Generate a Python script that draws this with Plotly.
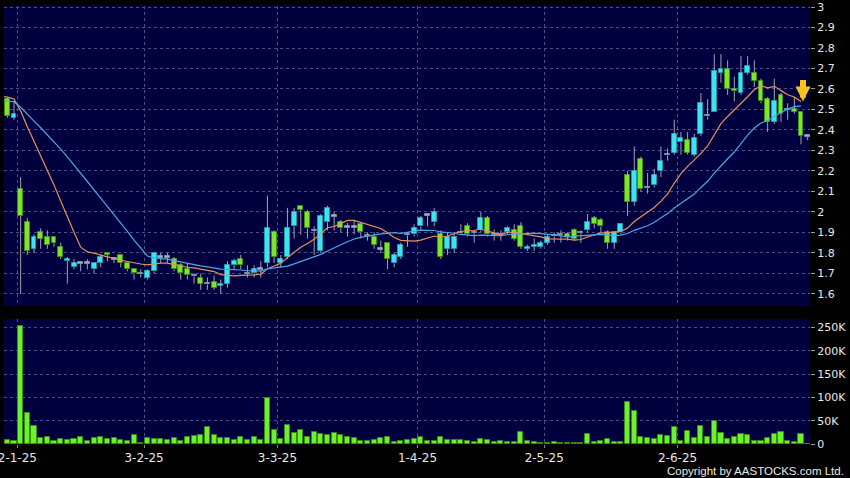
import numpy as np
import pandas as pd
import plotly.graph_objects as go

# ---------------- data ----------------
hk_holidays = ["2025-01-01", "2025-01-29", "2025-01-30", "2025-01-31", "2025-04-04",
               "2025-04-18", "2025-04-21", "2025-05-01", "2025-05-05"]
dates = [d for d in pd.bdate_range("2024-12-30", "2025-06-27")
         if d.strftime("%Y-%m-%d") not in hk_holidays]

tick_dates = ["2025-01-02", "2025-02-03", "2025-03-03", "2025-04-01", "2025-05-02", "2025-06-02"]
tick_labels = ["2-1-25", "3-2-25", "3-3-25", "1-4-25", "2-5-25", "2-6-25"]

open_ = [2.55, 2.46, 2.11, 1.95, 1.82, 1.90, 1.88, 1.88, 1.83, 1.76,
         1.73, 1.75, 1.75, 1.72, 1.75, 1.80, 1.77, 1.79, 1.75, 1.72,
         1.70, 1.68, 1.71, 1.78, 1.78, 1.77, 1.74, 1.72, 1.69, 1.68,
         1.65, 1.66, 1.64, 1.65, 1.74, 1.77, 1.70, 1.70, 1.72, 1.75,
         1.90, 1.75, 1.78, 1.93, 2.03, 2.00, 1.91, 1.81, 1.95, 1.98,
         1.95, 1.925, 1.925, 1.94, 1.885, 1.88, 1.82, 1.85, 1.75, 1.78,
         1.89, 1.89, 1.93, 1.985, 1.95, 1.89, 1.82, 1.82, 1.90, 1.93,
         1.90, 1.91, 1.97, 1.89, 1.89, 1.90, 1.91, 1.93, 1.82, 1.83,
         1.83, 1.85, 1.885, 1.89, 1.89, 1.91, 1.90, 1.91, 1.97, 1.96,
         1.90, 1.85, 1.90, 2.18, 2.05, 2.26, 2.12, 2.13, 2.20, 2.28,
         2.29, 2.34, 2.35, 2.28, 2.38, 2.47, 2.49, 2.68, 2.70, 2.60,
         2.58, 2.68, 2.68, 2.64, 2.55, 2.44, 2.57, 2.50, 2.50, 2.49,
         2.37]
high = [2.56, 2.54, 2.17, 1.97, 1.89, 1.92, 1.91, 1.88, 1.85, 1.78,
        1.77, 1.75, 1.77, 1.75, 1.79, 1.80, 1.78, 1.79, 1.75, 1.72,
        1.72, 1.72, 1.80, 1.80, 1.80, 1.78, 1.75, 1.75, 1.70, 1.70,
        1.68, 1.69, 1.67, 1.76, 1.77, 1.79, 1.74, 1.74, 1.76, 2.08,
        1.91, 1.79, 2.02, 2.02, 2.03, 2.01, 1.93, 1.99, 2.03, 2.00,
        1.96, 1.945, 1.96, 1.95, 1.90, 1.90, 1.86, 1.85, 1.80, 1.85,
        1.90, 1.94, 1.98, 1.99, 2.02, 1.91, 1.90, 1.90, 1.94, 1.945,
        1.91, 2.00, 1.98, 1.915, 1.91, 1.93, 1.94, 1.95, 1.84, 1.87,
        1.86, 1.89, 1.90, 1.91, 1.90, 1.92, 1.91, 1.99, 1.98, 1.97,
        1.91, 1.90, 1.945, 2.20, 2.32, 2.27, 2.19, 2.21, 2.32, 2.31,
        2.45, 2.39, 2.39, 2.38, 2.58, 2.55, 2.77, 2.77, 2.74, 2.66,
        2.76, 2.76, 2.74, 2.65, 2.56, 2.65, 2.58, 2.53, 2.56, 2.49,
        2.38]
low = [2.46, 2.45, 1.60, 1.79, 1.80, 1.82, 1.82, 1.83, 1.77, 1.65,
       1.72, 1.71, 1.72, 1.70, 1.73, 1.76, 1.75, 1.73, 1.71, 1.67,
       1.68, 1.67, 1.70, 1.75, 1.75, 1.71, 1.67, 1.67, 1.65, 1.62,
       1.62, 1.62, 1.60, 1.63, 1.72, 1.72, 1.68, 1.68, 1.68, 1.73,
       1.75, 1.73, 1.77, 1.87, 1.89, 1.87, 1.79, 1.80, 1.91, 1.91,
       1.90, 1.88, 1.89, 1.87, 1.86, 1.82, 1.80, 1.72, 1.73, 1.77,
       1.83, 1.88, 1.91, 1.93, 1.93, 1.77, 1.79, 1.80, 1.89, 1.88,
       1.85, 1.90, 1.88, 1.86, 1.86, 1.89, 1.86, 1.82, 1.81, 1.81,
       1.82, 1.84, 1.85, 1.85, 1.86, 1.86, 1.85, 1.90, 1.92, 1.90,
       1.82, 1.82, 1.89, 1.98, 2.03, 2.10, 2.09, 2.12, 2.17, 2.25,
       2.28, 2.28, 2.28, 2.27, 2.37, 2.45, 2.49, 2.63, 2.57, 2.54,
       2.57, 2.67, 2.61, 2.53, 2.39, 2.43, 2.44, 2.45, 2.48, 2.33,
       2.35]
close = [2.47, 2.48, 1.98, 1.81, 1.88, 1.87, 1.84, 1.85, 1.78, 1.77,
         1.75, 1.75, 1.75, 1.75, 1.78, 1.79, 1.77, 1.75, 1.72, 1.70,
         1.70, 1.71, 1.80, 1.78, 1.78, 1.72, 1.70, 1.69, 1.69, 1.65,
         1.65, 1.63, 1.65, 1.74, 1.76, 1.74, 1.70, 1.72, 1.72, 1.92,
         1.78, 1.77, 1.92, 2.00, 2.01, 1.92, 1.91, 1.98, 2.02, 1.98,
         1.92, 1.925, 1.925, 1.90, 1.885, 1.84, 1.82, 1.77, 1.79, 1.84,
         1.89, 1.92, 1.97, 1.985, 2.00, 1.78, 1.88, 1.88, 1.90, 1.89,
         1.90, 1.97, 1.89, 1.89, 1.89, 1.92, 1.87, 1.83, 1.83, 1.84,
         1.85, 1.88, 1.885, 1.89, 1.88, 1.87, 1.90, 1.95, 1.94, 1.93,
         1.85, 1.90, 1.94, 2.05, 2.20, 2.11, 2.12, 2.18, 2.25, 2.28,
         2.38, 2.36, 2.29, 2.36, 2.53, 2.47, 2.69, 2.70, 2.60, 2.59,
         2.68, 2.71, 2.64, 2.54, 2.44, 2.54, 2.48, 2.50, 2.49, 2.37,
         2.37]
volume = [8000, 6000, 254000, 67000, 38000, 13000, 15000, 6000, 11000, 9000,
          10000, 15000, 6000, 12000, 14000, 11000, 12000, 8000, 6000, 19000,
          2000, 12000, 11000, 11000, 8000, 12000, 6000, 14000, 17000, 19000,
          36000, 19000, 12000, 12000, 8000, 14000, 9000, 14000, 8000, 99000,
          29000, 10000, 41000, 24000, 31000, 15000, 25000, 22000, 19000, 23000,
          19000, 14000, 12000, 6000, 6000, 8000, 12000, 14000, 4000, 6000,
          9000, 11000, 14000, 6000, 6000, 14000, 9000, 9000, 8000, 6000,
          4000, 11000, 9000, 4000, 7000, 4000, 4000, 25000, 6000, 4000,
          1500, 1500, 4000, 2000, 2000, 2000, 2000, 21000, 5000, 6000,
          11000, 4000, 5000, 91000, 71000, 16000, 12000, 10000, 20000, 17000,
          36000, 7000, 27000, 12000, 38000, 15000, 49000, 23000, 11000, 14000,
          22000, 19000, 7000, 7000, 13000, 21000, 26000, 7000, 5000, 22000,
          0]
# closes before the visible window (estimated from the starting MA levels)
prior_closes = [2.52] * 11 + [2.57] * 9

vol_tickvals = [0, 50000, 100000, 150000, 200000, 250000]
vol_ticktext = ["0", "50K", "100K", "150K", "200K", "250K"]

# ---------------- derived ----------------
n = len(dates)
xi = np.arange(n)
o = np.array(open_); h = np.array(high); l = np.array(low); c = np.array(close)

allc = pd.Series(prior_closes + close[:-1])  # last session not yet in the averages
ma10 = allc.rolling(10).mean().to_numpy()[len(prior_closes) - 1:]
ma20 = allc.rolling(20).mean().to_numpy()[len(prior_closes) - 1:]
ma_x = np.arange(-1, len(ma10) - 1)

body_lo = np.minimum(o, c)
body_hi = np.maximum(o, c)
min_h = 0.008
body_h = np.maximum(body_hi - body_lo, min_h)
body_lo_draw = np.where(body_hi - body_lo < min_h, (o + c) / 2 - min_h / 2, body_lo)

UP, UP_LINE = "#3EE3F2", "#1E9AAA"
DN, DN_LINE = "#7EE52C", "#3E8E14"
FLAT, FLAT_LINE = "#9DB3C6", "#7890A4"
fill = [UP if cc > oo else DN if cc < oo else FLAT for oo, cc in zip(o, c)]
edge = [UP_LINE if cc > oo else DN_LINE if cc < oo else FLAT_LINE for oo, cc in zip(o, c)]

wx, wy = [], []
for i in range(n):
    if h[i] > body_lo_draw[i] + body_h[i]:
        wx += [xi[i], xi[i], None]; wy += [body_lo_draw[i] + body_h[i], h[i], None]
    if l[i] < body_lo_draw[i]:
        wx += [xi[i], xi[i], None]; wy += [l[i], body_lo_draw[i], None]

date_str = [d.strftime("%Y-%m-%d") for d in dates]
tick_pos = [date_str.index(t) - 0.5 for t in tick_dates]

# ---------------- figure ----------------
fig = go.Figure()
fig.add_trace(go.Bar(x=xi, y=body_h, base=body_lo_draw, width=0.74,
                     marker=dict(color=fill, line=dict(color=edge, width=1)),
                     xaxis="x", yaxis="y", hoverinfo="skip"))
fig.add_trace(go.Scatter(x=wx, y=wy, mode="lines", line=dict(color="#A3A3B0", width=1),
                         xaxis="x", yaxis="y", hoverinfo="skip"))
fig.add_trace(go.Scatter(x=ma_x, y=ma10, mode="lines", line=dict(color="#E8905C", width=1.2),
                         xaxis="x", yaxis="y"))
fig.add_trace(go.Scatter(x=ma_x, y=ma20, mode="lines", line=dict(color="#4AA6E6", width=1.2),
                         xaxis="x", yaxis="y"))
fig.add_trace(go.Bar(x=xi, y=volume, width=0.76,
                     marker=dict(color="#6CF22C", line=dict(color="#3A8A16", width=1)),
                     xaxis="x2", yaxis="y2"))

grid = dict(showgrid=True, gridcolor="#4C4C86", gridwidth=1, griddash="3px,3px",
            zeroline=False, automargin=False)
font = dict(family="DejaVu Sans", color="#E8E8E8")

fig.update_layout(
    width=850, height=478,
    margin=dict(l=4, r=40, t=6, b=34, autoexpand=False),
    paper_bgcolor="#000000", plot_bgcolor="#00003F",
    showlegend=False, bargap=0,
    font=dict(family="DejaVu Sans", size=11, color="#E8E8E8"),
    xaxis=dict(domain=[0, 1], anchor="y", range=[-0.5, 120.35], tickmode="array",
               tickvals=tick_pos, showticklabels=False, ticks="", **grid),
    xaxis2=dict(domain=[0, 1], anchor="y2", range=[-0.5, 120.35], matches="x", tickmode="array",
                tickvals=tick_pos, ticktext=tick_labels, ticks="outside", ticklen=3,
                tickcolor="#888888", tickfont=dict(size=12, **font),
                ticklabeloverflow="allow", **grid),
    yaxis=dict(domain=[0.3151, 1], anchor="x", side="right", range=[1.541, 3.005],
               tick0=1.6, dtick=0.1, ticks="outside", ticklen=4, tickcolor="#9A9A9A",
               tickfont=dict(size=11, **font), **grid),
    yaxis2=dict(domain=[0, 0.2854], anchor="x2", side="right", range=[0, 268000],
                tickmode="array", tickvals=vol_tickvals, ticktext=vol_ticktext,
                ticks="outside", ticklen=4, tickcolor="#9A9A9A",
                tickfont=dict(size=11, **font), **grid),
)

fig.add_annotation(x=xi[-2] + 0.3, y=ma10[-1], xref="x", yref="y", text="",
                   showarrow=True, ax=0, ay=-23, arrowhead=2, arrowsize=0.5,
                   arrowwidth=6, arrowcolor="#F7C31C")
fig.add_annotation(x=1.0447, y=-0.0616, xref="paper", yref="paper",
                   xanchor="right", yanchor="middle", showarrow=False,
                   text="Copyright by AASTOCKS.com Ltd.",
                   font=dict(family="Liberation Sans", size=11.5, color="#E8E8E8"))

fig.write_html("out.html", config={"displayModeBar": False},
               post_script="document.body.style.margin='0';document.body.style.padding='0';"
                           "document.documentElement.style.overflow='hidden';")
